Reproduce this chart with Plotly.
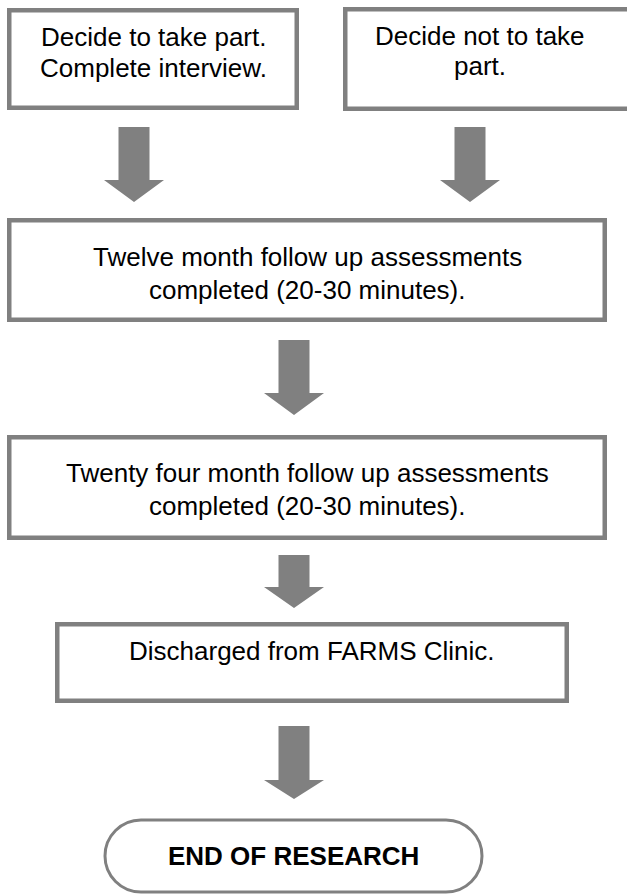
import plotly.graph_objects as go

# ---- content ----
box_lines = [
    ["Decide to take part.", "Complete interview."],
    ["Decide not to take", "part."],
    ["Twelve month follow up assessments", "completed (20-30 minutes)."],
    ["Twenty four month follow up assessments", "completed (20-30 minutes)."],
    ["Discharged from FARMS Clinic."],
]
end_label = "END OF RESEARCH"

# ---- geometry (pixels, y downward) ----
box_x0 = [7, 343, 7, 7, 55]
box_x1 = [299, 660, 607, 607, 569]
box_y0 = [8, 7, 218, 435, 622]
box_y1 = [110, 111, 322, 540, 703]
line_y = [[37, 68], [36, 66], [257, 290], [473, 506], [651]]

arrow_cx = [134, 470, 294, 294, 294]
arrow_top = [127, 127, 340, 555, 726]
arrow_base = [180, 180, 393, 587, 780]
arrow_tip = [202, 202, 415, 608, 799]

oval = dict(x0=105, x1=482, y0=820, y1=892, cap=36)

W, H = 627, 895
GRAY = "#808080"
FONT = "Liberation Sans, Arial, sans-serif"
FS = 26

fig = go.Figure()
shapes = []
annotations = []

for i, lines in enumerate(box_lines):
    shapes.append(dict(type="rect", xref="x", yref="y",
                       x0=box_x0[i] + 2.25, x1=box_x1[i] - 2.25,
                       y0=box_y0[i] + 2.25, y1=box_y1[i] - 2.25,
                       line=dict(color=GRAY, width=4.5), fillcolor="white", layer="below"))
    cx = (box_x0[i] + box_x1[i]) / 2 if i != 1 else 480
    for t, y in zip(lines, line_y[i]):
        annotations.append(dict(x=cx, y=y, xref="x", yref="y", text=t, showarrow=False,
                                font=dict(family=FONT, size=FS, color="black"),
                                xanchor="center", yanchor="middle"))

for cx, t, b, tip in zip(arrow_cx, arrow_top, arrow_base, arrow_tip):
    sw, hw = 15.5, 30
    path = (f"M {cx-sw},{t} L {cx+sw},{t} L {cx+sw},{b} L {cx+hw},{b} "
            f"L {cx},{tip} L {cx-hw},{b} L {cx-sw},{b} Z")
    shapes.append(dict(type="path", xref="x", yref="y", path=path,
                       fillcolor=GRAY, line=dict(width=0)))

L, R, T, B, c = oval["x0"], oval["x1"], oval["y0"], oval["y1"], oval["cap"]
m = (T + B) / 2
ry = (B - T) / 2
k = 0.5523
opath = (f"M {L+c},{T} L {R-c},{T} "
         f"C {R-c+k*c},{T} {R},{m-k*ry} {R},{m} "
         f"C {R},{m+k*ry} {R-c+k*c},{B} {R-c},{B} "
         f"L {L+c},{B} "
         f"C {L+c-k*c},{B} {L},{m+k*ry} {L},{m} "
         f"C {L},{m-k*ry} {L+c-k*c},{T} {L+c},{T} Z")
shapes.append(dict(type="path", xref="x", yref="y", path=opath,
                   fillcolor="white", line=dict(color=GRAY, width=3)))
annotations.append(dict(x=(L + R) / 2, y=856, xref="x", yref="y", text=f"<b>{end_label}</b>",
                        showarrow=False, font=dict(family=FONT, size=FS, color="black"),
                        xanchor="center", yanchor="middle"))

fig.update_layout(
    width=W, height=H, margin=dict(l=0, r=0, t=0, b=0),
    paper_bgcolor="white", plot_bgcolor="white",
    xaxis=dict(range=[0, W], visible=False, fixedrange=True),
    yaxis=dict(range=[H, 0], visible=False, fixedrange=True),
    shapes=shapes, annotations=annotations, showlegend=False,
)
fig.write_html("out.html", config={"displayModeBar": False},
               post_script="document.body.style.margin='0';document.body.style.overflow='hidden';")
